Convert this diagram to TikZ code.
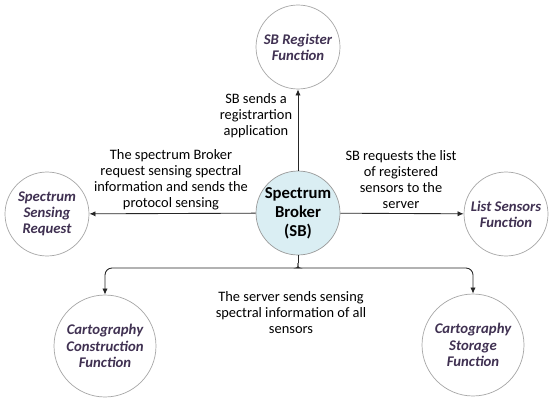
\documentclass[tikz,border=0pt]{standalone}
\usepackage{fontspec}
\setmainfont{Carlito}
\usetikzlibrary{arrows.meta}
\definecolor{fnpurple}{HTML}{403152}
\definecolor{sbblue}{HTML}{DAEEF3}
\tikzset{
  func/.style={circle, draw=gray!70, thin, fill=white, inner sep=0pt,
    minimum size=1.68cm, align=center, text=fnpurple,
    font=\fontsize{8.4}{9.2}\selectfont\bfseries\itshape},
  bigfunc/.style={func, minimum size=2.04cm},
  msg/.style={align=center, inner sep=0pt, font=\fontsize{8.2}{9.1}\selectfont},
  arr/.style={-{Latex[length=3.5pt,width=3pt]}, draw=black!85, line width=0.5pt}
}
\begin{document}
\begin{tikzpicture}[x=0.02cm, y=-0.02cm]
      \useasboundingbox (0,0) rectangle (550,402);
      %circles
      \node[func, fill=sbblue, draw=gray!80, text=black,
        font=\fontsize{9.5}{10.8}\selectfont\bfseries] (SB) at (298,213) {Spectrum\\Broker\\(SB)};
      \node[func] (reg) at (298,47) {SB Register\\Function};
      \node[func] (req) at (47,214) {Spectrum\\Sensing\\Request};
      \node[func] (list) at (506,214) {List Sensors\\Function};
      \node[bigfunc] (cons) at (105,346) {Cartography\\Construction\\Function};
      \node[bigfunc] (stor) at (473,345) {Cartography\\Storage\\Function};
      %arrows
      \draw[arr] (SB) -- (reg);
      \draw[arr] (SB) -- (req);
      \draw[arr] (SB) -- (list);
      \coordinate (tip) at (298,263);
      \draw[draw=black!85, line width=0.5pt] (SB.south) -- (tip);
      \draw[arr, rounded corners=4] (tip) .. controls (298,268) .. (293,268) -| (cons.north);
      \draw[arr, rounded corners=4] (tip) .. controls (298,268) .. (303,268) -| (stor.north);
      %labels
      \node[msg] (m1) at (256,116) {SB sends a\\registrartion\\application};
      \node[msg] (m2) at (171,180) {The spectrum Broker\\request sensing spectral\\information and sends the\\protocol sensing};
      \node[msg] (m3) at (401,180) {SB requests the list\\of registered\\sensors to the\\server};
      \node[msg] (m4) at (291,313) {The server sends sensing\\spectral information of all\\sensors};
\end{tikzpicture}
\end{document}
